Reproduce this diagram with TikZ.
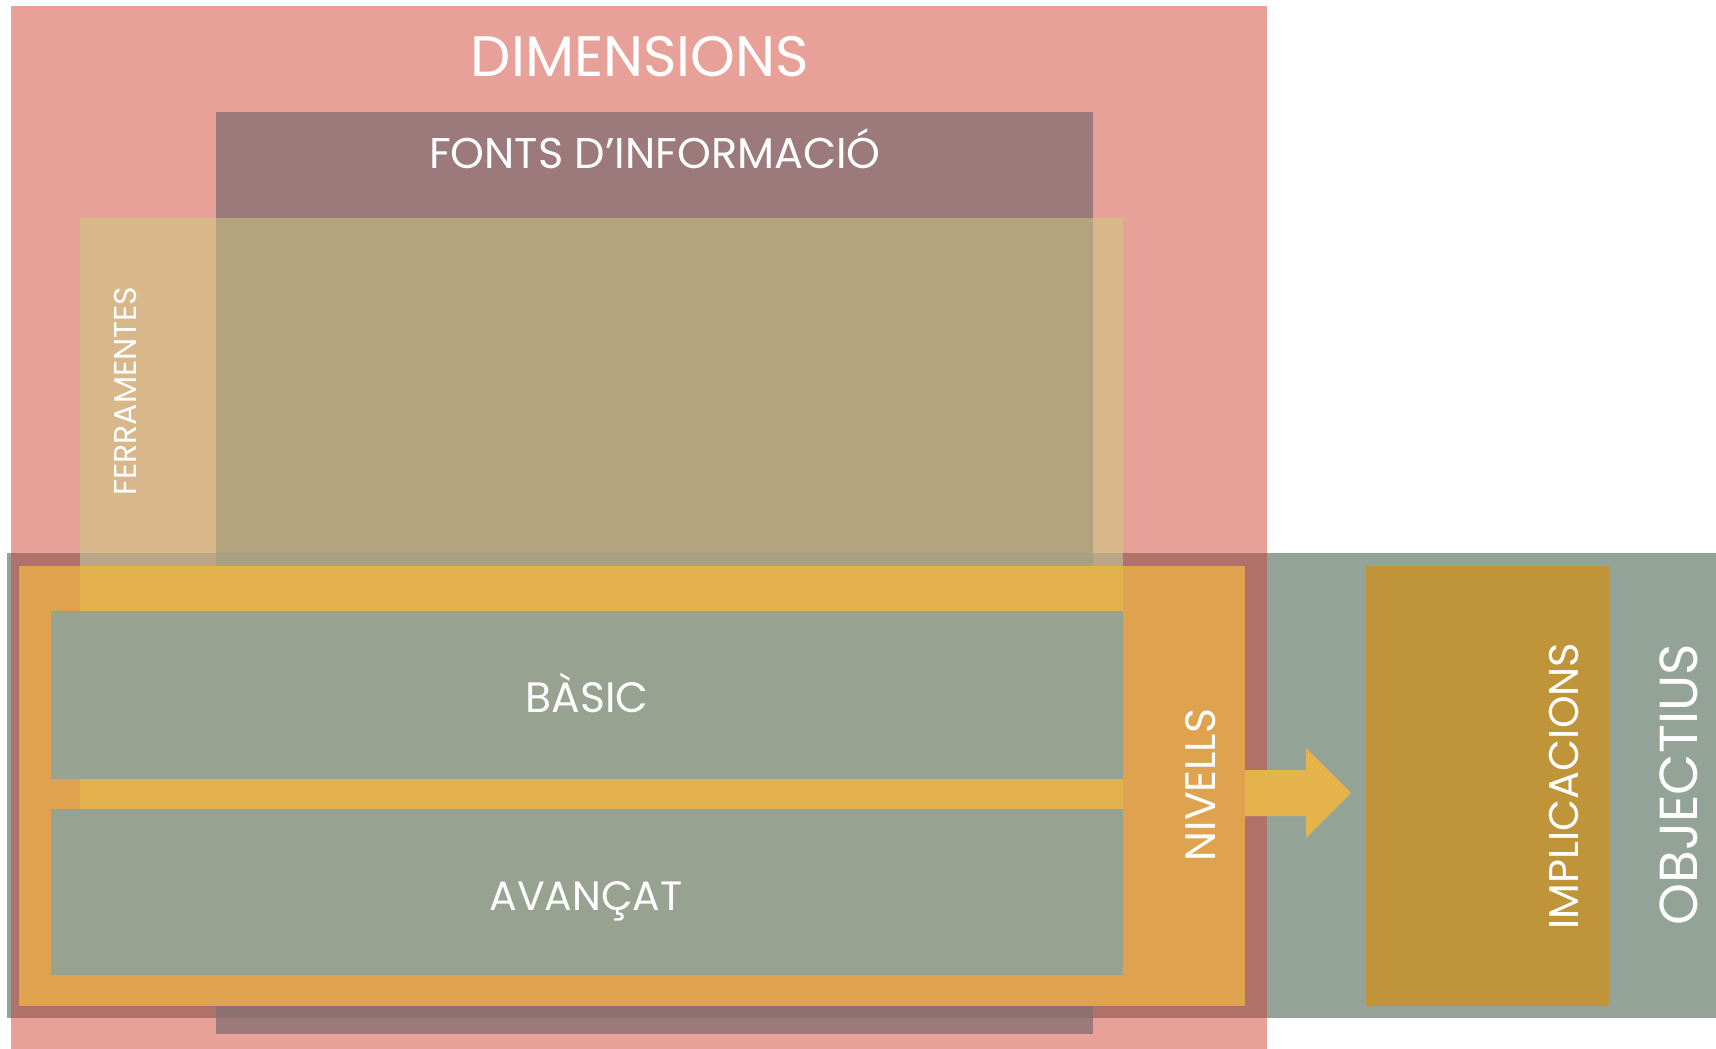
\documentclass[tikz,border=0pt]{standalone}
\usepackage{fontspec}
\setmainfont{Poppins}
\definecolor{cPink}{HTML}{E8A198}
\definecolor{cMauve}{HTML}{9C7A7C}
\definecolor{cTanP}{HTML}{D8B88A}
\definecolor{cKhaki}{HTML}{B4A47E}
\definecolor{cGrey}{HTML}{93A398}
\definecolor{cGreyPink}{HTML}{B07268}
\definecolor{cGreyTan}{HTML}{BAA58A}
\definecolor{cGreyKhaki}{HTML}{A7A082}
\definecolor{cGreyMauve}{HTML}{8E7070}
\definecolor{cOrangeP}{HTML}{DFA24E}
\definecolor{cOrangeT}{HTML}{E2B04C}
\definecolor{cBox}{HTML}{98A290}
\definecolor{cImpl}{HTML}{C0953A}
\definecolor{cArrow}{HTML}{E5B34B}
\newcommand{\fsz}[1]{\fontsize{#1}{#1}\selectfont}
\begin{document}
\begin{tikzpicture}[x=1pt,y=-1pt,
  lbl/.style={text=white, inner sep=0pt, outer sep=0pt, anchor=base},
  vlbl/.style={lbl, rotate=90}]
\useasboundingbox (0,0) rectangle (1716,1049);
\fill[white] (0,0) rectangle (1716,1049);
% DIMENSIONS (pink)
\fill[cPink] (11,6) rectangle (1267,1049);
% FONTS D'INFORMACIO (mauve)
\fill[cMauve] (216,112) rectangle (1093,1034);
% FERRAMENTES (tan)
\fill[cTanP] (80,218) rectangle (1123,975);
\fill[cKhaki] (216,218) rectangle (1093,975);
% OBJECTIUS (grey band)
\fill[cGrey] (7,553) rectangle (1716,1018);
\fill[cGreyPink] (11,553) rectangle (1267,1018);
\fill[cGreyTan] (80,553) rectangle (1123,566);
\fill[cGreyKhaki] (216,553) rectangle (1093,566);
\fill[cGreyMauve] (216,1006) rectangle (1093,1018);
% NIVELLS (orange)
\fill[cOrangeP] (19,566) rectangle (1245,1006);
\fill[cOrangeT] (80,566) rectangle (1123,975);
\fill[cOrangeP] (80,975) rectangle (1123,1006);
% levels
\fill[cBox] (51,611) rectangle (1123,779);
\fill[cBox] (51,809) rectangle (1123,975);
% IMPLICACIONS
\fill[cImpl] (1366,566) rectangle (1609,1006);
% arrow
\fill[cArrow] (1245,770) -- (1306,770) -- (1306,748) -- (1351,793)
  -- (1306,838) -- (1306,816) -- (1245,816) -- cycle;
% texts
\node[lbl, font=\fsz{57}] (dim) at (640,77) {DIMENSIONS};
\node[lbl, font=\fsz{43}] (fonts) at (655,168) {FONTS D’INFORMACIÓ};
\node[vlbl, font=\fsz{31.5}] (ferr) at (136,391) {FERRAMENTES};
\node[lbl, font=\fsz{42.5}] (basic) at (587,712) {BÀSIC};
\node[lbl, font=\fsz{41}] (avancat) at (586,910) {AVANÇAT};
\node[vlbl, font=\fsz{42.5}] (nivells) at (1215,785) {NIVELLS};
\node[vlbl, font=\fsz{41.5}] (impl) at (1578,786) {IMPLICACIONS};
\node[vlbl, font=\fsz{53.5}] (obj) at (1697,785) {OBJECTIUS};
\end{tikzpicture}
\end{document}
